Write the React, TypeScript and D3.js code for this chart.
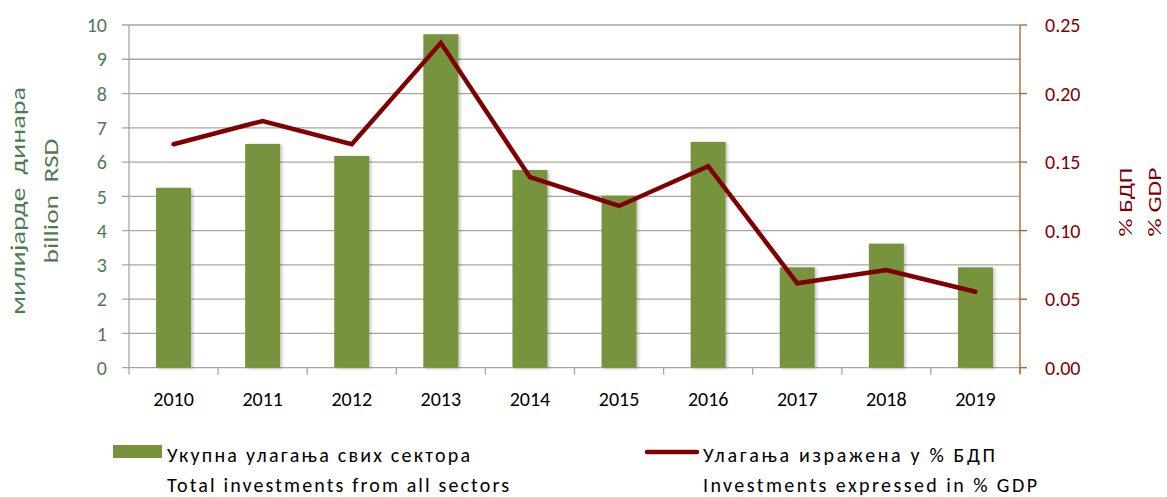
import React from "react";
import * as d3 from "d3";

const years = ["2010", "2011", "2012", "2013", "2014", "2015", "2016", "2017", "2018", "2019"];
const totalInvestments = [5.25, 6.53, 6.18, 9.73, 5.77, 5.02, 6.59, 2.93, 3.62, 2.93];
const pctGdp = [0.163, 0.18, 0.163, 0.237, 0.139, 0.118, 0.147, 0.0616, 0.0713, 0.0554];
const leftTicks = [0, 1, 2, 3, 4, 5, 6, 7, 8, 9, 10];
const rightTicks = [0, 0.05, 0.1, 0.15, 0.2, 0.25];
const leftTitle = ["милијарде  динара", "billion  RSD"];
const rightTitle = ["% БДП", "% GDP"];
const legendBar = ["Укупна улагања свих сектора", "Total investments from all sectors"];
const legendLine = ["Улагања изражена у % БДП", "Investments expressed in % GDP"];

const W = 1167, H = 497;
const left = 129, right = 1020, top = 25, bottom = 367.7;
const FONT = "Carlito, Calibri, Lato, 'Open Sans', sans-serif";
const GREEN = "#77933C";
const RED = "#7F0000";
const AXIS_GREEN = "#4F7A52";

export default function App() {
  const band = d3.scaleBand<string>().domain(years).range([left, right]);
  const yL = d3.scaleLinear().domain([0, 10]).range([bottom, top]);
  const yR = d3.scaleLinear().domain([0, 0.25]).range([bottom, top]);
  const cx = (y: string) => band(y)! + band.bandwidth() / 2;
  const line = d3
    .line<number>()
    .x((_, i) => cx(years[i]))
    .y((d) => yR(d));
  const barW = 35;
  const xTickPos = years.map((y) => band(y)!).concat([right]);

  return (
    <svg width={W} height={H} style={{ position: "absolute", left: 0, top: 0, background: "#fff" }} fontFamily={FONT}>
      <defs>
        <filter id="sh" x="-20%" y="-5%" width="150%" height="115%">
          <feDropShadow dx="2" dy="1" stdDeviation="1.5" floodColor="#000" floodOpacity="0.22" />
        </filter>
      </defs>
      {leftTicks.map((t) => (
        <line key={t} x1={left - 7} x2={right} y1={yL(t)} y2={yL(t)} stroke="#A6A6A6" strokeWidth={1.3} />
      ))}
      <line x1={left} x2={left} y1={top} y2={bottom} stroke="#A6A6A6" strokeWidth={1.3} />
      {leftTicks.map((t) => (
        <text key={t} x={107} y={yL(t)} dy="0.36em" textAnchor="end" fontSize={20} fill={AXIS_GREEN}>
          {t}
        </text>
      ))}
      {xTickPos.map((p, i) => (
        <line key={i} x1={p} x2={p} y1={bottom} y2={bottom + 7} stroke="#A6A6A6" strokeWidth={1.3} />
      ))}
      {years.map((y) => (
        <text key={y} x={cx(y)} y={406} textAnchor="middle" fontSize={20} fill="#000">
          {y}
        </text>
      ))}
      {totalInvestments.map((v, i) => (
        <rect key={i} x={cx(years[i]) - barW / 2} y={yL(v)} width={barW} height={bottom - yL(v)} fill={GREEN} filter="url(#sh)" />
      ))}
      <line x1={right} x2={right} y1={top} y2={bottom + 6} stroke="#B05A1E" strokeWidth={1.3} />
      {rightTicks.map((t) => (
        <g key={t}>
          <line x1={right} x2={right + 7} y1={yR(t)} y2={yR(t)} stroke="#B05A1E" strokeWidth={1.3} />
          <text x={1045} y={yR(t)} dy="0.36em" fontSize={20} fill={RED}>
            {t.toFixed(2)}
          </text>
        </g>
      ))}
      <path d={line(pctGdp)!} fill="none" stroke={RED} strokeWidth={4.5} strokeLinecap="round" strokeLinejoin="miter" />
      <g transform="translate(25,201) rotate(-90)">
        <text textAnchor="middle" fontSize={20} fill={AXIS_GREEN} textLength={228} lengthAdjust="spacingAndGlyphs" style={{ whiteSpace: "pre" }}>
          {leftTitle[0]}
        </text>
        <text y={33} textAnchor="middle" fontSize={20} fill={AXIS_GREEN} textLength={125} lengthAdjust="spacingAndGlyphs" style={{ whiteSpace: "pre" }}>
          {leftTitle[1]}
        </text>
      </g>
      <g transform="translate(1132,202) rotate(-90)">
        <text textAnchor="middle" fontSize={19} fill={RED} textLength={69} lengthAdjust="spacingAndGlyphs">
          {rightTitle[0]}
        </text>
        <text y={29} textAnchor="middle" fontSize={19} fill={RED} textLength={69} lengthAdjust="spacingAndGlyphs">
          {rightTitle[1]}
        </text>
      </g>
      <rect x={113} y={445} width={49} height={13} fill={GREEN} />
      <text x={167} y={462} fontSize={20} fill="#000" textLength={303} lengthAdjust="spacing">{legendBar[0]}</text>
      <text x={167} y={492} fontSize={20} fill="#000" textLength={342} lengthAdjust="spacing">{legendBar[1]}</text>
      <line x1={647} x2={697} y1={452} y2={452} stroke={RED} strokeWidth={4.5} strokeLinecap="round" />
      <text x={703} y={462} fontSize={20} fill="#000" textLength={292} lengthAdjust="spacing">{legendLine[0]}</text>
      <text x={703} y={492} fontSize={20} fill="#000" textLength={334} lengthAdjust="spacing">{legendLine[1]}</text>
    </svg>
  );
}
